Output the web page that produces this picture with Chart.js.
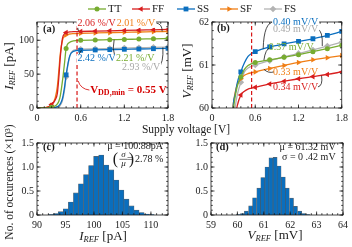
<!DOCTYPE html>
<html>
<head>
<meta charset="utf-8">
<script src="https://cdn.jsdelivr.net/npm/chart.js@4.4.1/dist/chart.umd.min.js"></script>
<style>
  html, body { margin: 0; padding: 0; background: #fff; }
  #page { position: relative; width: 352px; height: 247px; }
  #page canvas { position: absolute; left: 0; top: 0; }
</style>
</head>
<body>
<div id="page">
  <canvas id="chartA" width="352" height="247"></canvas>
  <canvas id="chartB" width="352" height="247"></canvas>
  <canvas id="chartC" width="352" height="247"></canvas>
  <canvas id="chartD" width="352" height="247"></canvas>
</div>
<script>
var SERIF = "'Liberation Serif', 'Times New Roman', serif";
var INK = '#1a1a1a';

// (a) I_REF vs supply voltage [V] -> [pA]
var vddA  = [0, 0.1, 0.15, 0.2, 0.25, 0.28, 0.3, 0.32, 0.35, 0.38, 0.4, 0.45, 0.5, 0.6, 0.8, 1.0, 1.2, 1.4, 1.6, 1.8];
var markA = [0.2, 0.4, 0.6, 0.8, 1.0, 1.2, 1.4, 1.6, 1.8];
var irefTT = [0, 0, 0.3, 1.2, 3, 6, 10, 18, 40, 68, 88, 97, 99, 100, 100.4, 100.9, 101.3, 101.8, 102.2, 102.7];
var irefFF = [0, 0.3, 1.5, 5, 12, 22, 45, 75, 103, 110, 111.5, 112.3, 112.7, 113, 113.5, 114, 114.5, 115, 115.5, 116];
var irefSS = [0, 0, 0, 0.3, 1, 2, 3.5, 6, 14, 32, 49, 77, 83.5, 85.2, 85.7, 86.2, 86.7, 87.1, 87.6, 88.1];
var irefSF = [0, 0.3, 1.5, 4, 15, 32, 55, 80, 100, 106.5, 108, 109.3, 109.8, 110.3, 110.8, 111.3, 111.8, 112.2, 112.7, 113.1];
var irefFS = [0, 0, 0, 0.2, 0.5, 1, 2, 4, 11, 28, 46, 76, 85, 86.8, 87.3, 87.9, 88.5, 89.0, 89.6, 90.1];

// (b) V_REF vs supply voltage [V] -> [mV]
var vddB  = [0.25, 0.28, 0.3, 0.32, 0.35, 0.4, 0.45, 0.5, 0.55, 0.6, 0.8, 1.0, 1.2, 1.4, 1.6, 1.8];
var markB = [0.4, 0.6, 0.8, 1.0, 1.2, 1.4, 1.6, 1.8];
var vrefTT = [59.0, 59.6, 60.0, 60.25, 60.5, 60.72, 60.9, 60.99, 61.03, 61.06, 61.12, 61.18, 61.24, 61.31, 61.38, 61.46];
var vrefFF = [58.5, 59.0, 59.4, 59.75, 60.05, 60.3, 60.39, 60.44, 60.46, 60.48, 60.56, 60.62, 60.68, 60.73, 60.78, 60.84];
var vrefSS = [59.0, 59.7, 60.15, 60.3, 60.58, 60.84, 61.05, 61.2, 61.27, 61.31, 61.42, 61.49, 61.55, 61.61, 61.69, 61.78];
var vrefSF = [59.3, 59.9, 60.15, 60.35, 60.55, 60.68, 60.76, 60.8, 60.82, 60.84, 60.92, 60.99, 61.06, 61.12, 61.17, 61.22];
var vrefFS = [58.7, 59.3, 59.7, 60.0, 60.3, 60.6, 60.84, 60.93, 60.97, 61.0, 61.1, 61.19, 61.27, 61.35, 61.44, 61.53];

// (c), (d) Monte-Carlo histograms, occurrences in 1e3
var irefBins   = [92.40, 93.29, 94.17, 95.06, 95.95, 96.84, 97.72, 98.61, 99.50, 100.38, 101.27, 102.16, 103.05, 103.93, 104.82, 105.71, 106.60, 107.48, 108.37, 109.26, 110.14];
var irefCounts = [0.01, 0.03, 0.07, 0.13, 0.27, 0.46, 0.65, 0.84, 1.03, 1.22, 1.25, 1.04, 0.94, 0.73, 0.52, 0.33, 0.19, 0.10, 0.05, 0.02, 0.01];
var vrefBins   = [60.03, 60.19, 60.34, 60.50, 60.65, 60.81, 60.96, 61.12, 61.27, 61.43, 61.58, 61.74, 61.89, 62.05, 62.20, 62.36, 62.51, 62.67];
var vrefCounts = [0.01, 0.03, 0.08, 0.19, 0.36, 0.56, 0.78, 1.0, 1.19, 1.2, 1.02, 0.79, 0.56, 0.35, 0.18, 0.08, 0.03, 0.01];

var vddMin = 0.55;

var corners = ['TT', 'FF', 'SS', 'SF', 'FS'];
var colors = { TT: '#77ac30', FF: '#d81e1e', SS: '#0b6fbf', SF: '#f07e15', FS: '#b3b3b3' };
var markers = {
  TT: { style: 'circle', rot: 0, r: 2.5 },
  FF: { style: 'triangle', rot: -90, r: 3.2 },
  SS: { style: 'rect', rot: 0, r: 3.4 },
  SF: { style: 'triangle', rot: 90, r: 3.2 },
  FS: { style: 'rectRot', rot: 0, r: 3.3 }
};

function fontOf(p) {
  return (p.i ? 'italic ' : '') + (p.b ? 'bold ' : '') + (p.s || 10) + 'px ' + SERIF;
}

// draws a run of text pieces (for subscripts etc.)
function rich(ctx, x, y, parts, opt) {
  opt = opt || {};
  ctx.save();
  ctx.translate(x, y);
  if (opt.rotate) ctx.rotate(opt.rotate);
  var w = 0;
  parts.forEach(function (p) { ctx.font = fontOf(p); p.w = ctx.measureText(p.t).width; w += p.w; });
  var cx = opt.align === 'left' ? 0 : opt.align === 'right' ? -w : -w / 2;
  if (opt.bg) { ctx.fillStyle = '#fff'; ctx.fillRect(cx - 1, -opt.bg / 2, w + 2, opt.bg); }
  ctx.textBaseline = 'middle';
  ctx.textAlign = 'left';
  parts.forEach(function (p) {
    ctx.font = fontOf(p);
    ctx.fillStyle = p.c || opt.color || INK;
    ctx.fillText(p.t, cx, p.dy || 0);
    cx += p.w;
  });
  ctx.restore();
}

function note(chart, xv, yv, parts, opt) {
  rich(chart.ctx, chart.scales.x.getPixelForValue(xv), chart.scales.y.getPixelForValue(yv), parts, opt);
}

function leader(chart, pts, color) {
  var ctx = chart.ctx, sx = chart.scales.x, sy = chart.scales.y;
  ctx.save();
  ctx.strokeStyle = color || INK;
  ctx.lineWidth = 0.8;
  ctx.beginPath();
  ctx.moveTo(sx.getPixelForValue(pts[0]), sy.getPixelForValue(pts[1]));
  ctx.quadraticCurveTo(sx.getPixelForValue(pts[2]), sy.getPixelForValue(pts[3]),
                       sx.getPixelForValue(pts[4]), sy.getPixelForValue(pts[5]));
  ctx.stroke();
  ctx.restore();
}

function dashedMin(chart) {
  var ctx = chart.ctx, a = chart.chartArea, p = chart.scales.x.getPixelForValue(vddMin);
  ctx.save();
  ctx.strokeStyle = '#d40000';
  ctx.lineWidth = 1.1;
  ctx.setLineDash([4, 2.5]);
  ctx.beginPath();
  ctx.moveTo(p, a.bottom);
  ctx.lineTo(p, a.top);
  ctx.stroke();
  ctx.restore();
}

function drawFrame(chart, xMinor, yMinor) {
  var ctx = chart.ctx, a = chart.chartArea, sx = chart.scales.x, sy = chart.scales.y;
  ctx.save();
  ctx.strokeStyle = INK;
  ctx.lineWidth = 0.8;
  ctx.beginPath();
  function xt(v, len) {
    var p = sx.getPixelForValue(v);
    ctx.moveTo(p, a.bottom); ctx.lineTo(p, a.bottom - len);
    ctx.moveTo(p, a.top); ctx.lineTo(p, a.top + len);
  }
  function yt(v, len) {
    var p = sy.getPixelForValue(v);
    ctx.moveTo(a.left, p); ctx.lineTo(a.left + len, p);
    ctx.moveTo(a.right, p); ctx.lineTo(a.right - len, p);
  }
  var v;
  for (v = sx.min; v <= sx.max + 1e-9; v += xMinor) xt(v, 1.8);
  for (v = sy.min; v <= sy.max + 1e-9; v += yMinor) yt(v, 1.8);
  sx.ticks.forEach(function (t) { xt(t.value, 3.5); });
  sy.ticks.forEach(function (t) { yt(t.value, 3.5); });
  ctx.stroke();
  ctx.strokeRect(a.left, a.top, a.right - a.left, a.bottom - a.top);
  ctx.restore();
}

function panelTag(chart, text, dx, dy) {
  var a = chart.chartArea;
  rich(chart.ctx, a.left + dx, a.top + dy, [{ t: text, b: true, s: 10.5 }], { align: 'left' });
}

function legendRow(ctx) {
  var slots = { TT: 88, FF: 132, SS: 177, SF: 220, FS: 264 };
  var y = 9;
  corners.forEach(function (c) {
    var x0 = slots[c], m = markers[c];
    ctx.save();
    ctx.strokeStyle = colors[c];
    ctx.lineWidth = 1.3;
    ctx.beginPath(); ctx.moveTo(x0, y); ctx.lineTo(x0 + 18, y); ctx.stroke();
    ctx.fillStyle = colors[c];
    Chart.helpers.drawPoint(ctx, { pointStyle: m.style, rotation: m.rot, radius: m.r, borderWidth: 0 }, x0 + 9, y);
    ctx.restore();
    rich(ctx, x0 + 20, y + 0.5, [{ t: c, s: 11 }], { align: 'left' });
  });
}

function lineSet(c, xs, ys, marks) {
  var m = markers[c];
  return {
    label: c,
    data: xs.map(function (v, i) { return { x: v, y: ys[i] }; }),
    borderColor: colors[c],
    backgroundColor: colors[c],
    borderWidth: 1.3,
    pointStyle: m.style,
    rotation: m.rot,
    pointRadius: xs.map(function (v) { return marks.indexOf(v) >= 0 ? m.r : 0; }),
    pointBorderWidth: 0,
    cubicInterpolationMode: 'monotone'
  };
}

function axis(min, max, step, dir) {
  return {
    type: 'linear', min: min, max: max, offset: false,
    grid: { display: false, drawTicks: false }, border: { display: false },
    ticks: { stepSize: step, includeBounds: false, padding: dir === 'x' ? 4 : 3, maxRotation: 0,
             color: INK, font: { family: SERIF, size: 10 } }
  };
}

function base() {
  return {
    responsive: false, animation: false, events: [],
    layout: { padding: { left: 0, top: 0, right: 0, bottom: 0 } },
    plugins: { legend: { display: false }, tooltip: { enabled: false } }
  };
}

// nudge the layout padding until the plot frame sits on the wanted box
function place(chart, box) {
  for (var k = 0; k < 4; k++) {
    var a = chart.chartArea, p = chart.options.layout.padding;
    chart.options.layout.padding = {
      left: Math.max(0, p.left + box.left - a.left),
      top: Math.max(0, p.top + box.top - a.top),
      right: Math.max(0, p.right + a.right - box.right),
      bottom: Math.max(0, p.bottom + a.bottom - box.bottom)
    };
    chart.update();
  }
}

// ---------- (a)
var optA = base();
optA.scales = { x: axis(0, 1.8, 0.6, 'x'), y: axis(0, 127, 50, 'y') };
var chartA = new Chart(document.getElementById('chartA'), {
  type: 'line',
  data: { datasets: [
    lineSet('TT', vddA, irefTT, markA), lineSet('FF', vddA, irefFF, markA),
    lineSet('SS', vddA, irefSS, markA), lineSet('SF', vddA, irefSF, markA),
    lineSet('FS', vddA, irefFS, markA)
  ] },
  options: optA,
  plugins: [{
    id: 'decoA',
    afterDatasetsDraw: function (chart) { dashedMin(chart); },
    afterDraw: function (chart) {
      var ctx = chart.ctx;
      drawFrame(chart, 0.1, 10);
      panelTag(chart, '(a)', 6, 7);
      leader(chart, [0.585, 125.5, 0.545, 122, 0.57, 113.5]);
      leader(chart, [1.64, 125.5, 1.72, 124, 1.72, 113.2]);
      leader(chart, [0.585, 73, 0.56, 80, 0.61, 85.3]);
      leader(chart, [1.07, 76, 1.03, 88, 1.06, 100.7]);
      leader(chart, [1.67, 60, 1.74, 66, 1.73, 89.4]);
      leader(chart, [0.72, 26.5, 0.6, 28, 0.565, 40], '#d40000');
      note(chart, 0.82, 125, [{ t: '2.06 %/V', s: 10 }], { color: colors.FF, bg: 9 });
      note(chart, 1.36, 125, [{ t: '2.01 %/V', s: 10 }], { color: colors.SF, bg: 9 });
      note(chart, 0.82, 73, [{ t: '2.42 %/V', s: 10 }], { color: colors.SS, bg: 9 });
      note(chart, 1.35, 73, [{ t: '2.21 %/V', s: 10 }], { color: colors.TT, bg: 9 });
      note(chart, 1.43, 60.5, [{ t: '2.93 %/V', s: 10 }], { color: '#a8a8a8', bg: 9 });
      note(chart, 0.73, 26.5, [
        { t: 'V', b: true, s: 11 }, { t: 'DD,min', b: true, s: 8, dy: 3 }, { t: ' = 0.55 V', b: true, s: 11 }
      ], { color: '#d40000', align: 'left' });
      // page texts
      legendRow(ctx);
      rich(ctx, 10, 66, [{ t: 'I', i: true, s: 13 }, { t: 'REF', i: true, s: 8.5, dy: 3 }, { t: ' [pA]', s: 13 }],
           { rotate: -Math.PI / 2 });
      rich(ctx, 186, 130, [{ t: 'Supply voltage [V]', s: 11.5 }]);
    }
  }]
});
place(chartA, { left: 37, top: 22, right: 168, bottom: 108 });

// ---------- (b)
var optB = base();
optB.scales = { x: axis(0, 1.8, 0.6, 'x'), y: axis(60, 62, 1, 'y') };
var chartB = new Chart(document.getElementById('chartB'), {
  type: 'line',
  data: { datasets: [
    lineSet('TT', vddB, vrefTT, markB), lineSet('FF', vddB, vrefFF, markB),
    lineSet('SS', vddB, vrefSS, markB), lineSet('SF', vddB, vrefSF, markB),
    lineSet('FS', vddB, vrefFS, markB)
  ] },
  options: optB,
  plugins: [{
    id: 'decoB',
    afterDatasetsDraw: function (chart) { dashedMin(chart); },
    afterDraw: function (chart) {
      drawFrame(chart, 0.1, 0.2);
      panelTag(chart, '(b)', 5, 6);
      leader(chart, [0.86, 62.0, 0.72, 62.0, 0.71, 61.38]);
      leader(chart, [1.46, 61.84, 1.54, 61.8, 1.53, 61.44]);
      leader(chart, [0.81, 61.40, 0.74, 61.38, 0.72, 61.11]);
      leader(chart, [0.86, 60.84, 0.78, 60.8, 0.72, 60.9]);
      leader(chart, [1.47, 60.49, 1.54, 60.52, 1.52, 60.75]);
      note(chart, 1.16, 62.0, [{ t: '0.40 mV/V', s: 10 }], { color: colors.SS, bg: 9 });
      note(chart, 1.16, 61.83, [{ t: '0.49 mV/V', s: 10 }], { color: '#a8a8a8', bg: 9 });
      note(chart, 1.10, 61.40, [{ t: '0.37 mV/V', s: 10 }], { color: colors.TT });
      note(chart, 1.16, 60.84, [{ t: '0.33 mV/V', s: 10 }], { color: colors.SF });
      note(chart, 1.16, 60.49, [{ t: '0.34 mV/V', s: 10 }], { color: colors.FF });
      rich(chart.ctx, 188, 71, [{ t: 'V', i: true, s: 13 }, { t: 'REF', i: true, s: 8.5, dy: 3 }, { t: ' [mV]', s: 13 }],
           { rotate: -Math.PI / 2 });
    }
  }]
});
place(chartB, { left: 212, top: 22, right: 343, bottom: 108 });

function histSet(bins, counts) {
  return {
    data: bins.map(function (v, i) { return { x: v, y: counts[i] }; }),
    backgroundColor: '#0a6ebd',
    borderColor: 'rgba(60,70,80,0.85)',
    borderWidth: 0.6,
    barPercentage: 1,
    categoryPercentage: 1
  };
}

// ---------- (c)
var optC = base();
optC.scales = { x: axis(90, 113, 5, 'x'), y: axis(0, 1.5, 0.5, 'y') };
var chartC = new Chart(document.getElementById('chartC'), {
  type: 'bar',
  data: { datasets: [histSet(irefBins, irefCounts)] },
  options: optC,
  plugins: [{
    id: 'decoC',
    afterDraw: function (chart) {
      var ctx = chart.ctx, sx = chart.scales.x, sy = chart.scales.y;
      drawFrame(chart, 1, 0.1);
      panelTag(chart, '(c)', 6, 4);
      note(chart, 112.1, 1.42, [{ t: '\u03bc = 100.88pA', s: 10 }], { align: 'right' });
      // (sigma / mu) = 2.78 %
      var xr = sx.getPixelForValue(112.2), yc = sy.getPixelForValue(1.16);
      rich(ctx, xr, yc, [{ t: '= 2.78 %', s: 10 }], { align: 'right' });
      var fx = xr - 40;
      rich(ctx, fx - 8, yc, [{ t: '(', s: 16 }], { align: 'center' });
      rich(ctx, fx, yc - 4.5, [{ t: '\u03c3', i: true, s: 9 }], { align: 'center' });
      rich(ctx, fx, yc + 4.5, [{ t: '\u03bc', i: true, s: 9 }], { align: 'center' });
      ctx.save(); ctx.strokeStyle = INK; ctx.lineWidth = 0.6;
      ctx.beginPath(); ctx.moveTo(fx - 4, yc); ctx.lineTo(fx + 4, yc); ctx.stroke(); ctx.restore();
      rich(ctx, fx + 8, yc, [{ t: ')', s: 16 }], { align: 'center' });
      rich(ctx, 103, 237, [{ t: 'I', i: true, s: 13 }, { t: 'REF', i: true, s: 8.5, dy: 3 }, { t: ' [pA]', s: 13 }]);
      rich(ctx, 10, 182, [{ t: 'No. of occurences (\u00d710\u00b3)', s: 11.5 }], { rotate: -Math.PI / 2 });
    }
  }]
});
place(chartC, { left: 37, top: 143, right: 168, bottom: 215 });

// ---------- (d)
var optD = base();
optD.scales = { x: axis(59, 64, 1, 'x'), y: axis(0, 1.5, 0.5, 'y') };
var chartD = new Chart(document.getElementById('chartD'), {
  type: 'bar',
  data: { datasets: [histSet(vrefBins, vrefCounts)] },
  options: optD,
  plugins: [{
    id: 'decoD',
    afterDraw: function (chart) {
      drawFrame(chart, 0.2, 0.1);
      panelTag(chart, '(d)', 5, 4);
      note(chart, 63.72, 1.40, [{ t: '\u03bc = 61.32 mV', s: 10 }], { align: 'right' });
      note(chart, 63.72, 1.21, [{ t: '\u03c3 = 0 .42 mV', s: 10 }], { align: 'right' });
      rich(chart.ctx, 275, 236, [{ t: 'V', i: true, s: 13 }, { t: 'REF', i: true, s: 8.5, dy: 3 }, { t: ' [mV]', s: 13 }]);
    }
  }]
});
place(chartD, { left: 211, top: 143, right: 343, bottom: 215 });
</script>
</body>
</html>
